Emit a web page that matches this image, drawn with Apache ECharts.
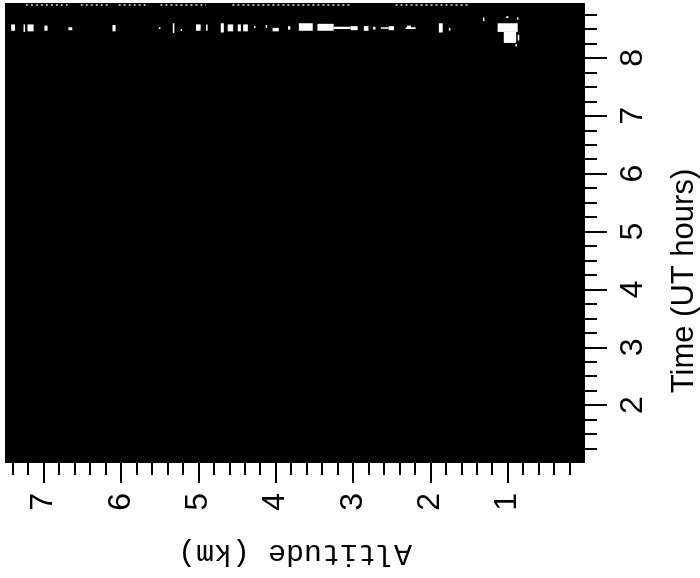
<!DOCTYPE html>
<html>
<head>
<meta charset="utf-8">
<script src="https://cdn.jsdelivr.net/npm/echarts@6/dist/echarts.min.js"></script>
<style>
html,body{margin:0;padding:0;background:#fff;}
#chart{width:700px;height:578px;}
</style>
</head>
<body>
<div id="chart"></div>
<script>
// Axis ticks
var altitudeTicks = [1, 2, 3, 4, 5, 6, 7];
var timeTicks = [2, 3, 4, 5, 6, 7, 8];

// Bright (white) backscatter features: [altitude from, altitude to, time from, time to]
var whiteEchoes = [
  [7.42, 7.37, 8.47, 8.58],
  [7.26, 7.24, 8.45, 8.58],
  [7.21, 7.13, 8.46, 8.58],
  [6.99, 6.95, 8.47, 8.56],
  [6.68, 6.63, 8.48, 8.53],
  [6.11, 6.07, 8.46, 8.57],
  [5.51, 5.49, 8.50, 8.53],
  [5.33, 5.31, 8.43, 8.60],
  [5.23, 5.21, 8.47, 8.50],
  [5.03, 4.97, 8.47, 8.58],
  [4.90, 4.88, 8.47, 8.58],
  [4.71, 4.67, 8.44, 8.60],
  [4.62, 4.55, 8.46, 8.58],
  [4.49, 4.45, 8.46, 8.58],
  [4.42, 4.36, 8.46, 8.58],
  [4.28, 4.26, 8.52, 8.55],
  [4.13, 4.11, 8.52, 8.57],
  [4.04, 3.96, 8.46, 8.52],
  [3.84, 3.81, 8.49, 8.55],
  [3.70, 3.52, 8.47, 8.60],
  [3.46, 3.25, 8.47, 8.59],
  [3.25, 3.03, 8.50, 8.54],
  [3.03, 2.94, 8.48, 8.55],
  [2.86, 2.80, 8.47, 8.55],
  [2.74, 2.71, 8.49, 8.54],
  [2.64, 2.54, 8.51, 8.53],
  [2.54, 2.47, 8.48, 8.55],
  [2.32, 2.19, 8.50, 8.53],
  [2.30, 2.25, 8.50, 8.56],
  [1.89, 1.84, 8.44, 8.60],
  [1.76, 1.74, 8.47, 8.52],
  [1.32, 1.30, 8.64, 8.70],
  [1.13, 0.87, 8.45, 8.60],
  [1.05, 0.89, 8.26, 8.45],
  [0.87, 0.85, 8.30, 8.40],
  [0.90, 0.88, 8.20, 8.24],
  [0.92, 0.90, 8.28, 8.30],
  [0.88, 0.86, 8.66, 8.70],
  [1.02, 0.99, 8.69, 8.72]
];

// Faint dotted returns along the top edge: [altitude from, altitude to, time]
var topEdgeReturns = [
  [7.23, 6.69, 8.915],
  [6.52, 6.13, 8.915],
  [6.03, 5.64, 8.915],
  [5.49, 4.90, 8.915],
  [4.56, 3.03, 8.915],
  [2.45, 1.48, 8.915]
];

var labelFont = "'Liberation Sans', Arial, Helvetica, sans-serif";

var chart = echarts.init(document.getElementById('chart'), null, {renderer: 'canvas'});
chart.setOption({
  animation: false,
  backgroundColor: '#fff',
  grid: {
    left: 5, right: 115, top: 3, bottom: 115,
    outerBoundsMode: 'none', containLabel: false,
    show: true, backgroundColor: '#000', borderWidth: 0
  },
  xAxis: {
    type: 'value', min: 0, max: 7.5, interval: 1, inverse: true, position: 'bottom',
    axisLine: {show: false},
    splitLine: {show: false},
    axisTick: {show: true, customValues: altitudeTicks, length: 20, lineStyle: {color: '#000', width: 2}},
    minorTick: {show: true, splitNumber: 5, length: 12, lineStyle: {color: '#000', width: 2}},
    axisLabel: {customValues: altitudeTicks, rotate: 90, margin: 30, fontSize: 32,
      fontFamily: labelFont, color: '#000'},
    name: 'Altitude (km)', nameLocation: 'middle', nameGap: 75, nameRotate: 180,
    nameTextStyle: {fontFamily: "'Liberation Mono', 'DejaVu Sans Mono', monospace", fontSize: 30, color: '#000'}
  },
  yAxis: {
    type: 'value', min: 1, max: 8.95, interval: 1, position: 'right',
    axisLine: {show: false},
    splitLine: {show: false},
    axisTick: {show: true, customValues: timeTicks, length: 22, lineStyle: {color: '#000', width: 2}},
    minorTick: {show: true, splitNumber: 4, length: 12, lineStyle: {color: '#000', width: 2}},
    axisLabel: {customValues: timeTicks, rotate: 90, margin: 32, fontSize: 32,
      fontFamily: labelFont, color: '#000'},
    name: 'Time (UT hours)', nameLocation: 'middle', nameGap: 84, nameRotate: 90,
    nameTextStyle: {fontFamily: labelFont, fontSize: 31, color: '#000', padding: [0, 96, 0, 0]}
  },
  series: [
    {
      type: 'custom',
      name: 'echoes',
      data: whiteEchoes,
      encode: {x: [0, 1], y: [2, 3]},
      itemStyle: {color: '#fff'},
      renderItem: function (params, api) {
        var p0 = api.coord([api.value(0), api.value(2)]);
        var p1 = api.coord([api.value(1), api.value(3)]);
        return {
          type: 'rect',
          shape: {
            x: Math.min(p0[0], p1[0]), y: Math.min(p0[1], p1[1]),
            width: Math.max(1.5, Math.abs(p1[0] - p0[0])),
            height: Math.max(1.5, Math.abs(p1[1] - p0[1]))
          },
          style: {fill: '#fff'}
        };
      }
    },
    {
      type: 'custom',
      name: 'top edge',
      data: topEdgeReturns,
      encode: {x: [0, 1], y: [2]},
      renderItem: function (params, api) {
        var p0 = api.coord([api.value(0), api.value(2)]);
        var p1 = api.coord([api.value(1), api.value(2)]);
        return {
          type: 'line',
          shape: {x1: p0[0], y1: p0[1], x2: p1[0], y2: p1[1]},
          style: {stroke: '#ddd', lineWidth: 1.5, lineDash: [2, 3]}
        };
      }
    }
  ]
});
</script>
</body>
</html>
